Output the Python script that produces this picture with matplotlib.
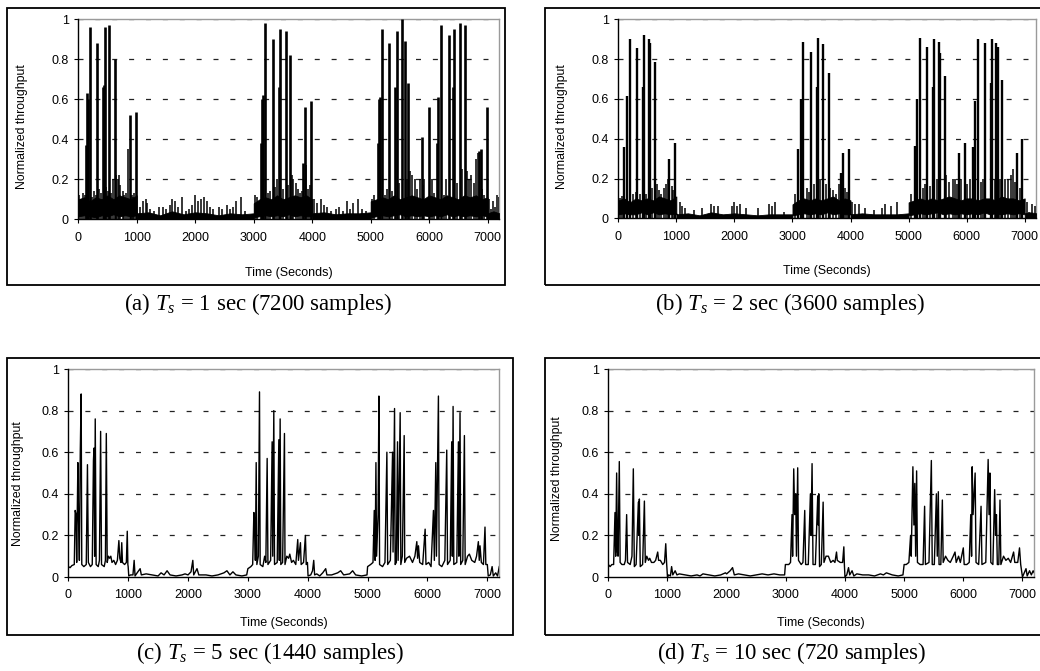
import matplotlib
matplotlib.use("Agg")
import matplotlib.pyplot as plt
from matplotlib.patches import Rectangle

W, H = 1040, 671
plt.rcParams['font.family'] = ['Liberation Sans', 'DejaVu Sans']
plt.rcParams['mathtext.fontset'] = 'custom'
plt.rcParams['mathtext.it'] = 'Liberation Serif:italic'
plt.rcParams['mathtext.rm'] = 'Liberation Serif'

# ---------------- shared labels ----------------
x_ticks = [0, 1000, 2000, 3000, 4000, 5000, 6000, 7000]
y_ticks = [0, 0.2, 0.4, 0.6, 0.8, 1.0]
y_ticklabels = ['0', '0.2', '0.4', '0.6', '0.8', '1']
grid_levels = [0.2, 0.4, 0.6, 0.8, 1.0]
x_label = 'Time (Seconds)'
y_label = 'Normalized throughput'
captions = [r'(a) $T_s$ = 1 sec (7200 samples)',
            r'(b) $T_s$ = 2 sec (3600 samples)',
            r'(c) $T_s$ = 5 sec (1440 samples)',
            r'(d) $T_s$ = 10 sec (720 samples)']

# ---------------- panel (a): Ts = 1 s ----------------
a_band_t = [0, 100, 200, 300, 400, 500, 600, 700, 800, 900, 1000,
            1000, 1200, 1400, 1600, 1800, 2000, 2200, 2400, 2600, 2800, 3000,
            3000, 3100, 3200, 3300, 3400, 3500, 3600, 3700, 3800, 3900, 4000,
            4000, 4200, 4400, 4600, 4800, 5000,
            5000, 5100, 5200, 5300, 5400, 5500, 5600, 5700, 5800, 5900, 6000,
            6100, 6200, 6300, 6400, 6500, 6600, 6700, 6800, 6900, 7000,
            7000, 7100, 7200]
a_band_hi = [0.10, 0.11, 0.09, 0.11, 0.10, 0.12, 0.10, 0.12, 0.11, 0.10, 0.12,
             0.03, 0.035, 0.02, 0.04, 0.025, 0.035, 0.03, 0.02, 0.03, 0.025, 0.03,
             0.08, 0.10, 0.11, 0.10, 0.12, 0.10, 0.11, 0.12, 0.11, 0.12, 0.10,
             0.03, 0.035, 0.025, 0.03, 0.03, 0.035,
             0.09, 0.10, 0.11, 0.10, 0.12, 0.10, 0.11, 0.12, 0.11, 0.10, 0.12,
             0.11, 0.10, 0.12, 0.11, 0.10, 0.12, 0.11, 0.12, 0.10, 0.11,
             0.03, 0.04, 0.03]
a_band_lo = [0.015, 0.02, 0.015, 0.01, 0.02, 0.015, 0.025, 0.015, 0.02, 0.015, 0.02,
             0, 0, 0, 0, 0, 0, 0, 0, 0, 0, 0,
             0.01, 0.015, 0.02, 0.015, 0.02, 0.015, 0.025, 0.015, 0.02, 0.015, 0.015,
             0, 0, 0, 0, 0, 0,
             0.01, 0.015, 0.02, 0.015, 0.02, 0.025, 0.015, 0.02, 0.015, 0.02, 0.015,
             0.02, 0.015, 0.025, 0.015, 0.02, 0.015, 0.02, 0.015, 0.02, 0.015,
             0, 0, 0]
a_peak_t = [130, 150, 165, 195, 325, 420, 435, 460, 530, 630, 880, 990,
            3130, 3150, 3165, 3200, 3330, 3430, 3450, 3550, 3620, 3850, 3870, 3980,
            5120, 5140, 5160, 5200, 5320, 5420, 5450, 5530, 5580, 5640, 5870, 5990,
            6130, 6160, 6200, 6340, 6400, 6430, 6530, 6620, 6860, 6880, 6990]
a_peak_v = [0.37, 0.63, 0.60, 0.96, 0.88, 0.66, 0.67, 0.96, 0.97, 0.80, 0.52, 0.535,
            0.38, 0.60, 0.62, 0.98, 0.90, 0.66, 0.95, 0.94, 0.82, 0.28, 0.56, 0.59,
            0.38, 0.60, 0.61, 0.95, 0.88, 0.66, 0.94, 1.00, 0.89, 0.68, 0.41, 0.56,
            0.38, 0.61, 0.97, 0.92, 0.66, 0.95, 0.98, 0.97, 0.34, 0.35, 0.56]
a_noise_t = [20, 50, 80, 110, 240, 270, 300, 360, 390, 480, 500, 560, 600, 650, 680, 700,
             720, 760, 790, 820, 850, 910, 940, 960,
             1050, 1100, 1150, 1180, 1230, 1300, 1380, 1450, 1500, 1560, 1600, 1650, 1700,
             1780, 1850, 1900, 1950, 2000, 2050, 2100, 2150, 2200, 2260, 2300, 2400, 2450,
             2550, 2600, 2650, 2700, 2780, 2850,
             3020, 3060, 3250, 3280, 3370, 3400, 3500, 3580, 3650, 3680, 3720, 3750, 3790,
             3820, 3900, 3930, 3960,
             4030, 4080, 4150, 4200, 4250, 4320, 4400, 4450, 4520, 4600, 4650, 4700, 4780,
             4850, 4920,
             5020, 5060, 5250, 5280, 5370, 5490, 5620, 5680, 5700, 5750, 5800, 5840, 5900,
             5920, 6050, 6080, 6250, 6280, 6470, 6560, 6650, 6690, 6720, 6760, 6800, 6830,
             6900, 6940,
             7020, 7060, 7100, 7130, 7160, 7190]
a_noise_v = [0.12, 0.10, 0.13, 0.12, 0.11, 0.14, 0.12, 0.15, 0.13, 0.16, 0.14, 0.13, 0.20,
             0.22, 0.20, 0.22, 0.17, 0.14, 0.12, 0.13, 0.35, 0.12, 0.11, 0.13,
             0.06, 0.09, 0.10, 0.08, 0.05, 0.04, 0.06, 0.06, 0.05, 0.07, 0.10, 0.09, 0.06,
             0.11, 0.04, 0.05, 0.07, 0.12, 0.09, 0.10, 0.11, 0.09, 0.06, 0.05, 0.06, 0.05,
             0.07, 0.05, 0.06, 0.09, 0.11, 0.04,
             0.12, 0.11, 0.13, 0.14, 0.16, 0.20, 0.15, 0.17, 0.22, 0.20, 0.18, 0.15, 0.13,
             0.14, 0.27, 0.15, 0.17,
             0.10, 0.08, 0.10, 0.07, 0.06, 0.04, 0.05, 0.06, 0.04, 0.09, 0.05, 0.08, 0.10,
             0.05, 0.04,
             0.10, 0.12, 0.12, 0.15, 0.14, 0.18, 0.20, 0.24, 0.22, 0.20, 0.15, 0.20, 0.17,
             0.20, 0.20, 0.13, 0.12, 0.20, 0.18, 0.25, 0.24, 0.20, 0.22, 0.18, 0.30, 0.33,
             0.15, 0.12,
             0.10, 0.05, 0.09, 0.06, 0.12, 0.11]

# ---------------- panel (b): Ts = 2 s ----------------
b_band_t = [0, 100, 200, 300, 400, 500, 600, 700, 800, 900, 1000,
            1000, 1200, 1400, 1600, 1800, 2000, 2200, 2400, 2600, 2800, 3000,
            3000, 3100, 3200, 3300, 3400, 3500, 3600, 3700, 3800, 3900, 4000,
            4000, 4200, 4400, 4600, 4800, 5000,
            5000, 5100, 5200, 5300, 5400, 5500, 5600, 5700, 5800, 5900, 6000,
            6100, 6200, 6300, 6400, 6500, 6600, 6700, 6800, 6900, 7000,
            7000, 7100, 7200]
b_band_hi = [0.09, 0.10, 0.08, 0.10, 0.09, 0.10, 0.09, 0.11, 0.10, 0.09, 0.11,
             0.02, 0.025, 0.015, 0.03, 0.02, 0.025, 0.02, 0.015, 0.02, 0.02, 0.02,
             0.07, 0.09, 0.10, 0.09, 0.10, 0.09, 0.10, 0.11, 0.09, 0.10, 0.09,
             0.02, 0.025, 0.02, 0.02, 0.02, 0.025,
             0.08, 0.09, 0.10, 0.09, 0.10, 0.09, 0.10, 0.11, 0.10, 0.09, 0.10,
             0.10, 0.09, 0.10, 0.10, 0.09, 0.11, 0.10, 0.10, 0.09, 0.10,
             0.025, 0.03, 0.025]
b_band_lo = [0.02, 0.025, 0.02, 0.02, 0.03, 0.02, 0.03, 0.02, 0.025, 0.02, 0.025,
             0, 0, 0, 0, 0, 0, 0, 0, 0, 0, 0,
             0.015, 0.02, 0.025, 0.02, 0.025, 0.02, 0.03, 0.02, 0.025, 0.02, 0.02,
             0, 0, 0, 0, 0, 0,
             0.015, 0.02, 0.025, 0.02, 0.025, 0.03, 0.02, 0.025, 0.02, 0.025, 0.02,
             0.025, 0.02, 0.03, 0.02, 0.025, 0.02, 0.025, 0.02, 0.025, 0.02,
             0, 0, 0]
b_peak_t = [103, 155, 201, 327, 419, 442, 522, 545, 631, 872, 975,
            3100, 3140, 3190, 3316, 3414, 3442, 3528, 3626, 3844, 3873, 3976,
            5118, 5146, 5192, 5318, 5421, 5439, 5525, 5548, 5623, 5864, 5967,
            6110, 6150, 6196, 6322, 6414, 6443, 6512, 6540, 6615, 6867, 6959]
b_peak_v = [0.36, 0.616, 0.90, 0.858, 0.66, 0.92, 0.90, 0.88, 0.784, 0.30, 0.377,
            0.35, 0.60, 0.888, 0.837, 0.66, 0.908, 0.876, 0.73, 0.226, 0.33, 0.348,
            0.365, 0.60, 0.908, 0.863, 0.66, 0.90, 0.888, 0.833, 0.715, 0.33, 0.38,
            0.36, 0.59, 0.90, 0.88, 0.68, 0.90, 0.883, 0.86, 0.695, 0.33, 0.40]
b_noise_t = [30, 70, 250, 300, 380, 480, 580, 660, 700, 740, 780, 820, 850, 920, 950,
             1060, 1100, 1150, 1300, 1450, 1600, 1650, 1720, 1950, 2000, 2050, 2100,
             2200, 2400, 2600, 2650, 2700, 2850,
             3050, 3250, 3280, 3370, 3480, 3580, 3650, 3700, 3750, 3800, 3900, 3940,
             4030, 4080, 4150, 4250, 4400, 4550, 4600, 4700, 4800,
             5050, 5250, 5280, 5370, 5490, 5650, 5700, 5760, 5800, 5840, 5900, 6000,
             6050, 6250, 6280, 6480, 6580, 6660, 6720, 6760, 6800, 6840, 6920,
             7040, 7080, 7120, 7170]
b_noise_v = [0.10, 0.11, 0.12, 0.13, 0.12, 0.12, 0.15, 0.17, 0.14, 0.12, 0.15, 0.17, 0.20,
             0.16, 0.14,
             0.08, 0.06, 0.05, 0.04, 0.05, 0.07, 0.06, 0.06, 0.06, 0.08, 0.06, 0.07,
             0.05, 0.05, 0.07, 0.06, 0.08, 0.03,
             0.12, 0.15, 0.13, 0.17, 0.20, 0.17, 0.15, 0.14, 0.12, 0.17, 0.15, 0.13,
             0.08, 0.07, 0.07, 0.05, 0.04, 0.05, 0.07, 0.06, 0.08,
             0.12, 0.15, 0.17, 0.16, 0.20, 0.22, 0.18, 0.20, 0.20, 0.17, 0.20, 0.17,
             0.20, 0.18, 0.20, 0.20, 0.20, 0.20, 0.20, 0.22, 0.25, 0.18, 0.15,
             0.08, 0.03, 0.07, 0.06]

# ---------------- panel (c): Ts = 5 s ----------------
c_t = [0, 30, 60, 100, 115, 130, 140, 160, 170, 185, 200, 215, 225, 260, 300, 320, 335,
       370, 400, 420, 430, 440, 450, 465, 500, 520, 540, 555, 600, 620, 635, 650, 670,
       690, 710, 730, 760, 790, 820, 845, 860, 880, 893, 905, 940, 970, 985, 995, 1000,
       1010,
       1040, 1080, 1100, 1115, 1150, 1200, 1220, 1300, 1400, 1500, 1550, 1600, 1650,
       1700, 1800, 1900, 1950, 2000, 2050, 2080, 2095, 2150, 2180, 2300, 2400, 2500,
       2600, 2650, 2700, 2750, 2800, 2900, 2980,
       3000, 3050, 3080, 3100, 3110, 3125, 3139, 3150, 3175, 3194, 3205, 3250, 3280,
       3300, 3322, 3335, 3380, 3405, 3415, 3433, 3445, 3490, 3517, 3525, 3539, 3550,
       3580, 3611, 3620, 3650, 3680, 3700, 3730, 3760, 3800, 3833, 3845, 3878, 3890,
       3930, 3961, 3975, 3995, 4005,
       4050, 4080, 4100, 4115, 4150, 4200, 4250, 4300, 4320, 4400, 4500, 4550, 4600,
       4700, 4750, 4800, 4900, 4990,
       5000, 5050, 5090, 5111, 5125, 5139, 5150, 5175, 5189, 5200, 5250, 5290, 5322,
       5335, 5380, 5417, 5425, 5450, 5460, 5480, 5500, 5510, 5544, 5555, 5580, 5611,
       5620, 5650, 5700, 5750, 5790, 5822, 5835, 5850, 5870, 5920, 5961, 5975, 6020,
       6060,
       6100, 6115, 6139, 6150, 6183, 6195, 6240, 6290, 6322, 6335, 6380, 6405, 6415,
       6428, 6440, 6490, 6517, 6525, 6544, 6555, 6590, 6617, 6630, 6670, 6700, 6740,
       6790, 6820, 6850, 6865, 6878, 6900, 6935, 6961, 6975, 7000, 7015,
       7050, 7080, 7100, 7140, 7170, 7200]
c_v = [0.05, 0.045, 0.055, 0.06, 0.32, 0.30, 0.07, 0.55, 0.30, 0.08, 0.60, 0.88, 0.06,
       0.05, 0.06, 0.54, 0.07, 0.05, 0.06, 0.56, 0.62, 0.10, 0.76, 0.06, 0.05, 0.08,
       0.70, 0.06, 0.05, 0.08, 0.69, 0.07, 0.10, 0.09, 0.10, 0.07, 0.08, 0.06, 0.08,
       0.175, 0.09, 0.07, 0.165, 0.07, 0.06, 0.07, 0.22, 0.06, 0.05, 0.005,
       0.01, 0.01, 0.08, 0.005, 0.02, 0.04, 0.01, 0.015, 0.01, 0.005, 0.02, 0.01, 0.03,
       0.01, 0.005, 0.01, 0.015, 0.01, 0.025, 0.08, 0.01, 0.04, 0.01, 0.01, 0.005, 0.01,
       0.02, 0.03, 0.01, 0.025, 0.01, 0.005, 0.01,
       0.04, 0.05, 0.06, 0.31, 0.28, 0.08, 0.55, 0.06, 0.10, 0.89, 0.06, 0.05, 0.10,
       0.07, 0.57, 0.06, 0.08, 0.65, 0.10, 0.80, 0.06, 0.07, 0.66, 0.08, 0.76, 0.06,
       0.07, 0.69, 0.06, 0.10, 0.09, 0.11, 0.07, 0.08, 0.06, 0.18, 0.08, 0.165, 0.06,
       0.07, 0.20, 0.06, 0.07, 0.005,
       0.01, 0.03, 0.08, 0.01, 0.015, 0.005, 0.02, 0.04, 0.01, 0.01, 0.02, 0.03, 0.01,
       0.015, 0.03, 0.01, 0.005, 0.01,
       0.05, 0.06, 0.07, 0.32, 0.08, 0.55, 0.10, 0.30, 0.87, 0.06, 0.05, 0.07, 0.60,
       0.06, 0.08, 0.60, 0.12, 0.81, 0.06, 0.07, 0.65, 0.08, 0.79, 0.06, 0.10, 0.68,
       0.07, 0.09, 0.10, 0.07, 0.10, 0.17, 0.09, 0.15, 0.07, 0.06, 0.23, 0.06, 0.07,
       0.05,
       0.32, 0.08, 0.55, 0.10, 0.87, 0.06, 0.05, 0.08, 0.61, 0.06, 0.08, 0.65, 0.10,
       0.82, 0.06, 0.07, 0.65, 0.10, 0.79, 0.06, 0.08, 0.68, 0.06, 0.10, 0.11, 0.08,
       0.07, 0.10, 0.17, 0.08, 0.15, 0.07, 0.06, 0.24, 0.06, 0.06, 0.005,
       0.01, 0.05, 0.005, 0.02, 0.005, 0.05]

# ---------------- panel (d): Ts = 10 s ----------------
d_t = [0, 30, 60, 90, 113, 125, 141, 155, 165, 186, 200, 230, 270, 290, 310, 325, 370,
       400, 423, 440, 470, 508, 515, 525, 540, 580, 610, 625, 650, 680, 700, 730, 770,
       800, 835, 850, 880, 920, 950, 971, 985, 1000,
       1020, 1050, 1070, 1090, 1130, 1160, 1200, 1300, 1400, 1500, 1550, 1600, 1700,
       1800, 1900, 1980, 2000, 2060, 2100, 2130, 2200, 2300, 2400, 2500, 2600, 2700,
       2800, 2900, 2980,
       2993, 3050, 3080, 3105, 3115, 3134, 3150, 3168, 3180, 3201, 3215, 3260, 3290,
       3320, 3335, 3380, 3416, 3425, 3444, 3460, 3500, 3540, 3548, 3557, 3570, 3600,
       3631, 3645, 3680, 3720, 3760, 3800, 3830, 3857, 3870, 3920, 3960, 3981, 3990,
       4000,
       4030, 4060, 4080, 4120, 4150, 4200, 4300, 4400, 4500, 4600, 4650, 4700, 4800,
       4900, 4980,
       5000, 5036, 5080, 5109, 5120, 5148, 5165, 5180, 5195, 5211, 5225, 5270, 5320,
       5346, 5360, 5420, 5460, 5475, 5510, 5545, 5560, 5578, 5590, 5620, 5646, 5660,
       5700, 5740, 5780, 5830, 5860, 5880, 5920, 5950, 6000, 6015, 6060,
       6100, 6126, 6140, 6150, 6165, 6200, 6215, 6260, 6300, 6315, 6380, 6420, 6435,
       6450, 6465, 6500, 6530, 6545, 6560, 6575, 6600, 6620, 6635, 6680, 6720, 6760,
       6800, 6850, 6870, 6920, 6950, 6970, 7000,
       7030, 7060, 7080, 7120, 7150, 7180, 7200]
d_v = [0.06, 0.05, 0.06, 0.06, 0.31, 0.10, 0.50, 0.12, 0.10, 0.555, 0.07, 0.06, 0.06,
       0.08, 0.30, 0.07, 0.06, 0.10, 0.52, 0.05, 0.06, 0.36, 0.20, 0.375, 0.05, 0.06,
       0.365, 0.07, 0.10, 0.08, 0.09, 0.07, 0.07, 0.08, 0.12, 0.08, 0.08, 0.06, 0.07,
       0.16, 0.07, 0.0,
       0.01, 0.005, 0.05, 0.01, 0.03, 0.01, 0.015, 0.01, 0.005, 0.01, 0.005, 0.015, 0.01,
       0.005, 0.01, 0.02, 0.015, 0.03, 0.045, 0.01, 0.015, 0.01, 0.005, 0.01, 0.015,
       0.01, 0.015, 0.01, 0.01,
       0.06, 0.06, 0.07, 0.30, 0.10, 0.52, 0.30, 0.40, 0.10, 0.525, 0.08, 0.06, 0.07,
       0.32, 0.06, 0.06, 0.40, 0.20, 0.545, 0.06, 0.06, 0.39, 0.25, 0.40, 0.05, 0.06,
       0.36, 0.07, 0.10, 0.10, 0.07, 0.08, 0.07, 0.12, 0.08, 0.07, 0.07, 0.145, 0.06,
       0.0,
       0.01, 0.045, 0.01, 0.03, 0.005, 0.015, 0.01, 0.01, 0.005, 0.015, 0.01, 0.02, 0.01,
       0.005, 0.01,
       0.06, 0.06, 0.07, 0.20, 0.10, 0.53, 0.25, 0.45, 0.10, 0.51, 0.07, 0.06, 0.06,
       0.34, 0.06, 0.07, 0.56, 0.06, 0.06, 0.40, 0.10, 0.41, 0.06, 0.06, 0.37, 0.07,
       0.10, 0.08, 0.07, 0.10, 0.12, 0.07, 0.10, 0.07, 0.14, 0.06, 0.06,
       0.07, 0.30, 0.10, 0.53, 0.30, 0.50, 0.07, 0.06, 0.34, 0.06, 0.07, 0.565, 0.30,
       0.50, 0.07, 0.06, 0.42, 0.20, 0.30, 0.06, 0.06, 0.37, 0.06, 0.10, 0.08, 0.09,
       0.07, 0.12, 0.07, 0.07, 0.14, 0.06, 0.0,
       0.02, 0.04, 0.005, 0.03, 0.01, 0.03, 0.02]

# ---------------- layout (pixels) ----------------
axes_px = [(78.3, 19.3, 421, 200),    # (a) left, top, width, height
           (618.3, 19.3, 418, 199),   # (b)
           (68.3, 369, 431, 208),     # (c)
           (608.3, 369, 426, 208)]    # (d)
boxes_px = [(7, 8, 498, 277), (545, 8, 510, 277), (7, 358, 506, 277), (545, 358, 510, 277)]
caption_px = [(258, 304), (790, 304), (270, 653), (792, 653)]
ylabel_pos = [(-0.134, 0.465), (-0.134, 0.46), (-0.116, 0.45), (-0.121, 0.475)]
xlabel_y = [-0.27, -0.265, -0.22, -0.22]

fig = plt.figure(figsize=(W / 100, H / 100), dpi=100)
axes = []
for (l, t, w, h) in axes_px:
    ax = fig.add_axes([l / W, 1 - (t + h) / H, w / W, h / H])
    axes.append(ax)

for i, ax in enumerate(axes):
    ax.set_xlim(0, 7200)
    ax.set_ylim(0, 1)
    for yv in grid_levels:
        ax.axhline(yv, color='#222222', lw=0.9, linestyle=(0, (4.0, 9.5)), zorder=1)
    ax.set_xticks(x_ticks)
    ax.set_yticks(y_ticks)
    ax.set_yticklabels(y_ticklabels)
    ax.tick_params(direction='out', length=3, width=0.8, labelsize=9, color='black')
    ax.tick_params(axis='x', pad=6)
    ax.tick_params(axis='y', pad=4)
    for s in ['top', 'right']:
        ax.spines[s].set_color('#9a9a9a')
        ax.spines[s].set_linewidth(1.0)
    for s in ['left', 'bottom']:
        ax.spines[s].set_color('black')
        ax.spines[s].set_linewidth(1.0)
        ax.spines[s].set_zorder(5)
    ax.set_xlabel(x_label, fontsize=9)
    ax.xaxis.label.set_va('center')
    ax.xaxis.set_label_coords(0.5, xlabel_y[i])
    ax.set_ylabel(y_label, fontsize=8.8)
    ax.yaxis.label.set_va('center')
    ax.yaxis.set_label_coords(*ylabel_pos[i])

# dense panels
for ax, bt, blo, bhi, pt, pv, nt, nv, plw in [
        (axes[0], a_band_t, a_band_lo, a_band_hi, a_peak_t, a_peak_v, a_noise_t, a_noise_v, 1.9),
        (axes[1], b_band_t, b_band_lo, b_band_hi, b_peak_t, b_peak_v, b_noise_t, b_noise_v, 1.7)]:
    ax.fill_between(bt, blo, bhi, color='black', lw=0.6, zorder=3)
    ax.vlines(nt, 0, nv, color='black', lw=1.1, zorder=3)
    ax.vlines(pt, 0, pv, color='black', lw=plw, zorder=3)

axes[2].plot(c_t, c_v, color='black', lw=1.0, zorder=3)
axes[3].plot(d_t, d_v, color='black', lw=1.0, zorder=3)

for (x0, y0, w, h) in boxes_px:
    fig.add_artist(Rectangle((x0 / W, 1 - (y0 + h) / H), w / W, h / H,
                             transform=fig.transFigure, fill=False,
                             edgecolor='black', lw=1.3))

for (cx, cy), cap in zip(caption_px, captions):
    fig.text(cx / W, 1 - cy / H, cap, ha='center', va='center', fontsize=16.5,
             family='Liberation Serif')

fig.savefig('out.png', dpi=100)
